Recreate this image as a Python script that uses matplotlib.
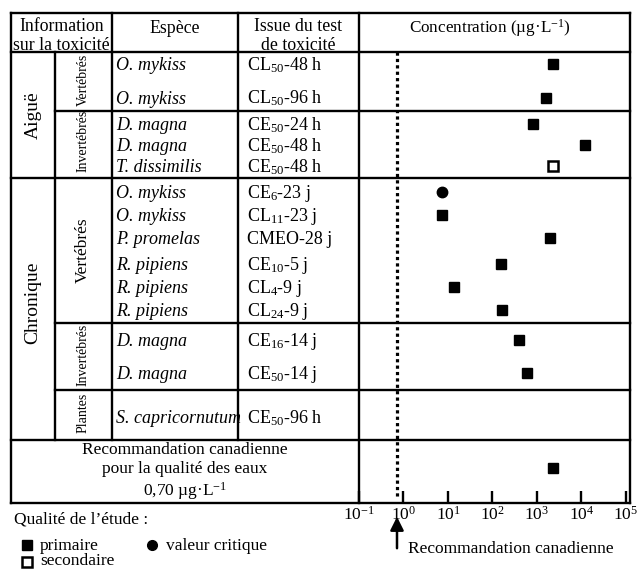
import matplotlib.pyplot as plt
import numpy as np

plt.rcParams['font.family'] = 'Liberation Serif'
plt.rcParams['mathtext.fontset'] = 'custom'
plt.rcParams['mathtext.rm'] = 'Liberation Serif'
plt.rcParams['mathtext.it'] = 'Liberation Serif:italic'

# %% data
species = ['O. mykiss', 'O. mykiss', 'D. magna', 'D. magna', 'T. dissimilis',
           'O. mykiss', 'O. mykiss', 'P. promelas', 'R. pipiens', 'R. pipiens',
           'R. pipiens', 'D. magna', 'D. magna', 'S. capricornutum']
tests = [r'CL$_{50}$-48 h', r'CL$_{50}$-96 h', r'CE$_{50}$-24 h', r'CE$_{50}$-48 h',
         r'CE$_{50}$-48 h', r'CE$_{6}$-23 j', r'CL$_{11}$-23 j', 'CMEO-28 j',
         r'CE$_{10}$-5 j', r'CL$_{4}$-9 j', r'CL$_{24}$-9 j', r'CE$_{16}$-14 j',
         r'CE$_{50}$-14 j', r'CE$_{50}$-96 h']
conc = [2300, 1600, 800, 12000, 2300, 7.3, 7.3, 2000, 155, 13.5, 160, 390, 590, np.nan]
quality = ['primaire', 'primaire', 'primaire', 'primaire', 'secondaire',
           'critique', 'primaire', 'primaire', 'primaire', 'primaire',
           'primaire', 'primaire', 'primaire', None]
guideline = 0.70
guideline_row_value = 2300

ticks = [1e-1, 1e0, 1e1, 1e2, 1e3, 1e4, 1e5]
tick_labels = [r'$10^{-1}$', r'$10^{0}$', r'$10^{1}$', r'$10^{2}$',
               r'$10^{3}$', r'$10^{4}$', r'$10^{5}$']

# layout (pixel rows of the table)
row_y = [64, 97.5, 124, 145, 166, 192, 215, 238, 264, 287, 310, 340, 373, 417]
rec_y = 468
W, H = 644, 569
L, R, T, B = 11, 630, 13, 503
LW = 1.7

fig = plt.figure(figsize=(W / 100, H / 100), dpi=100)
ax0 = fig.add_axes([0, 0, 1, 1])
ax0.set_xlim(0, W)
ax0.set_ylim(H, 0)
ax0.axis('off')


def hline(y, x0, x1):
    ax0.plot([x0, x1], [y, y], color='k', lw=LW, solid_capstyle='projecting')


def vline(x, y0, y1):
    ax0.plot([x, x], [y0, y1], color='k', lw=LW, solid_capstyle='projecting')


# table grid
hline(T, L, R)
hline(52, L, R)
hline(111, 55, R)
hline(178, L, R)
hline(323, 55, R)
hline(390, 55, R)
hline(440, L, R)
hline(B, L, R)
vline(L, T, B)
vline(R, T, B)
vline(359, T, B)
vline(55, 52, 440)
vline(112, T, 440)
vline(238, T, 440)

fs = 13
# headers
ax0.text(61.5, 36, 'Information\nsur la toxicité', ha='center', va='center',
         fontsize=12.8, linespacing=1.1)
ax0.text(175, 28, 'Espèce', ha='center', va='center', fontsize=12.8)
ax0.text(298, 36, 'Issue du test\nde toxicité', ha='center', va='center',
         fontsize=12.8, linespacing=1.1)
ax0.text(490, 28, r'Concentration (µg·L$^{-1}$)', ha='center', va='center', fontsize=12.3)

# group labels
ax0.text(33, 115, 'Aiguë', rotation=90, ha='center', va='center', fontsize=14)
ax0.text(33, 303, 'Chronique', rotation=90, ha='center', va='center', fontsize=14)
ax0.text(83, 80, 'Vertébrés', rotation=90, ha='center', va='center', fontsize=10)
ax0.text(83, 141, 'Invertébrés', rotation=90, ha='center', va='center', fontsize=10)
ax0.text(83, 250, 'Vertébrés', rotation=90, ha='center', va='center', fontsize=12.5)
ax0.text(83, 355, 'Invertébrés', rotation=90, ha='center', va='center', fontsize=10)
ax0.text(83, 413, 'Plantes', rotation=90, ha='center', va='center', fontsize=10)

for y, sp, te in zip(row_y, species, tests):
    ax0.text(116, y + 6, sp, ha='left', va='baseline', fontsize=fs, style='italic')
    ax0.text(247, y + 6, te, ha='left', va='baseline', fontsize=fs)

ax0.text(185, 472, 'Recommandation canadienne\npour la qualité des eaux\n'
         + r'0,70 µg·L$^{-1}$', ha='center', va='center', fontsize=12.5,
         linespacing=1.25)

# legend
ax0.text(14, 520, 'Qualité de l’étude :', ha='left', va='center', fontsize=12.5)
ax0.plot(27, 545, 's', color='k', ms=6.5)
ax0.text(40, 546, 'primaire', ha='left', va='center', fontsize=12.5)
ax0.plot(152, 545, 'o', color='k', ms=7)
ax0.text(166, 546, 'valeur critique', ha='left', va='center', fontsize=12.5)
ax0.plot(27, 562, 's', mfc='white', mec='k', mew=1.8, ms=6.5)
ax0.text(40, 561, 'secondaire', ha='left', va='center', fontsize=12.5)

# concentration panel
ax = fig.add_axes([359 / W, (H - B) / H, (R - 359) / W, (B - 52) / H])
ax.patch.set_visible(False)
ax.set_xscale('log')
ax.set_xlim(1e-1, 10 ** 5.09)
ax.set_ylim(B, 52)
for s in ax.spines.values():
    s.set_visible(False)
ax.set_yticks([])
ax.set_xticks(ticks)
ax.set_xticklabels(tick_labels, fontsize=12.5)
ax.xaxis.set_minor_locator(plt.NullLocator())
ax.tick_params(axis='x', direction='in', length=9, width=LW, pad=2)

ax.plot([guideline, guideline], [52, 498], color='k', lw=2.3, ls=(0, (1, 1)))

style = {'primaire': dict(marker='s', color='k', ms=7),
         'secondaire': dict(marker='s', mfc='white', mec='k', mew=1.8, ms=7),
         'critique': dict(marker='o', color='k', ms=7.5)}
for y, c, q in zip(row_y, conc, quality):
    if q is None:
        continue
    ax.plot(c, y, ls='none', clip_on=False, **style[q])
ax.plot(guideline_row_value, rec_y, ls='none', **style['primaire'])

# arrow for guideline
ax0.annotate('', xy=(397, 514), xytext=(397, 551),
             arrowprops=dict(arrowstyle='-|>', color='k', lw=1.8,
                             mutation_scale=20))
ax0.text(408, 549, 'Recommandation canadienne', ha='left', va='center', fontsize=12.5)

fig.savefig('out.png', dpi=100)
